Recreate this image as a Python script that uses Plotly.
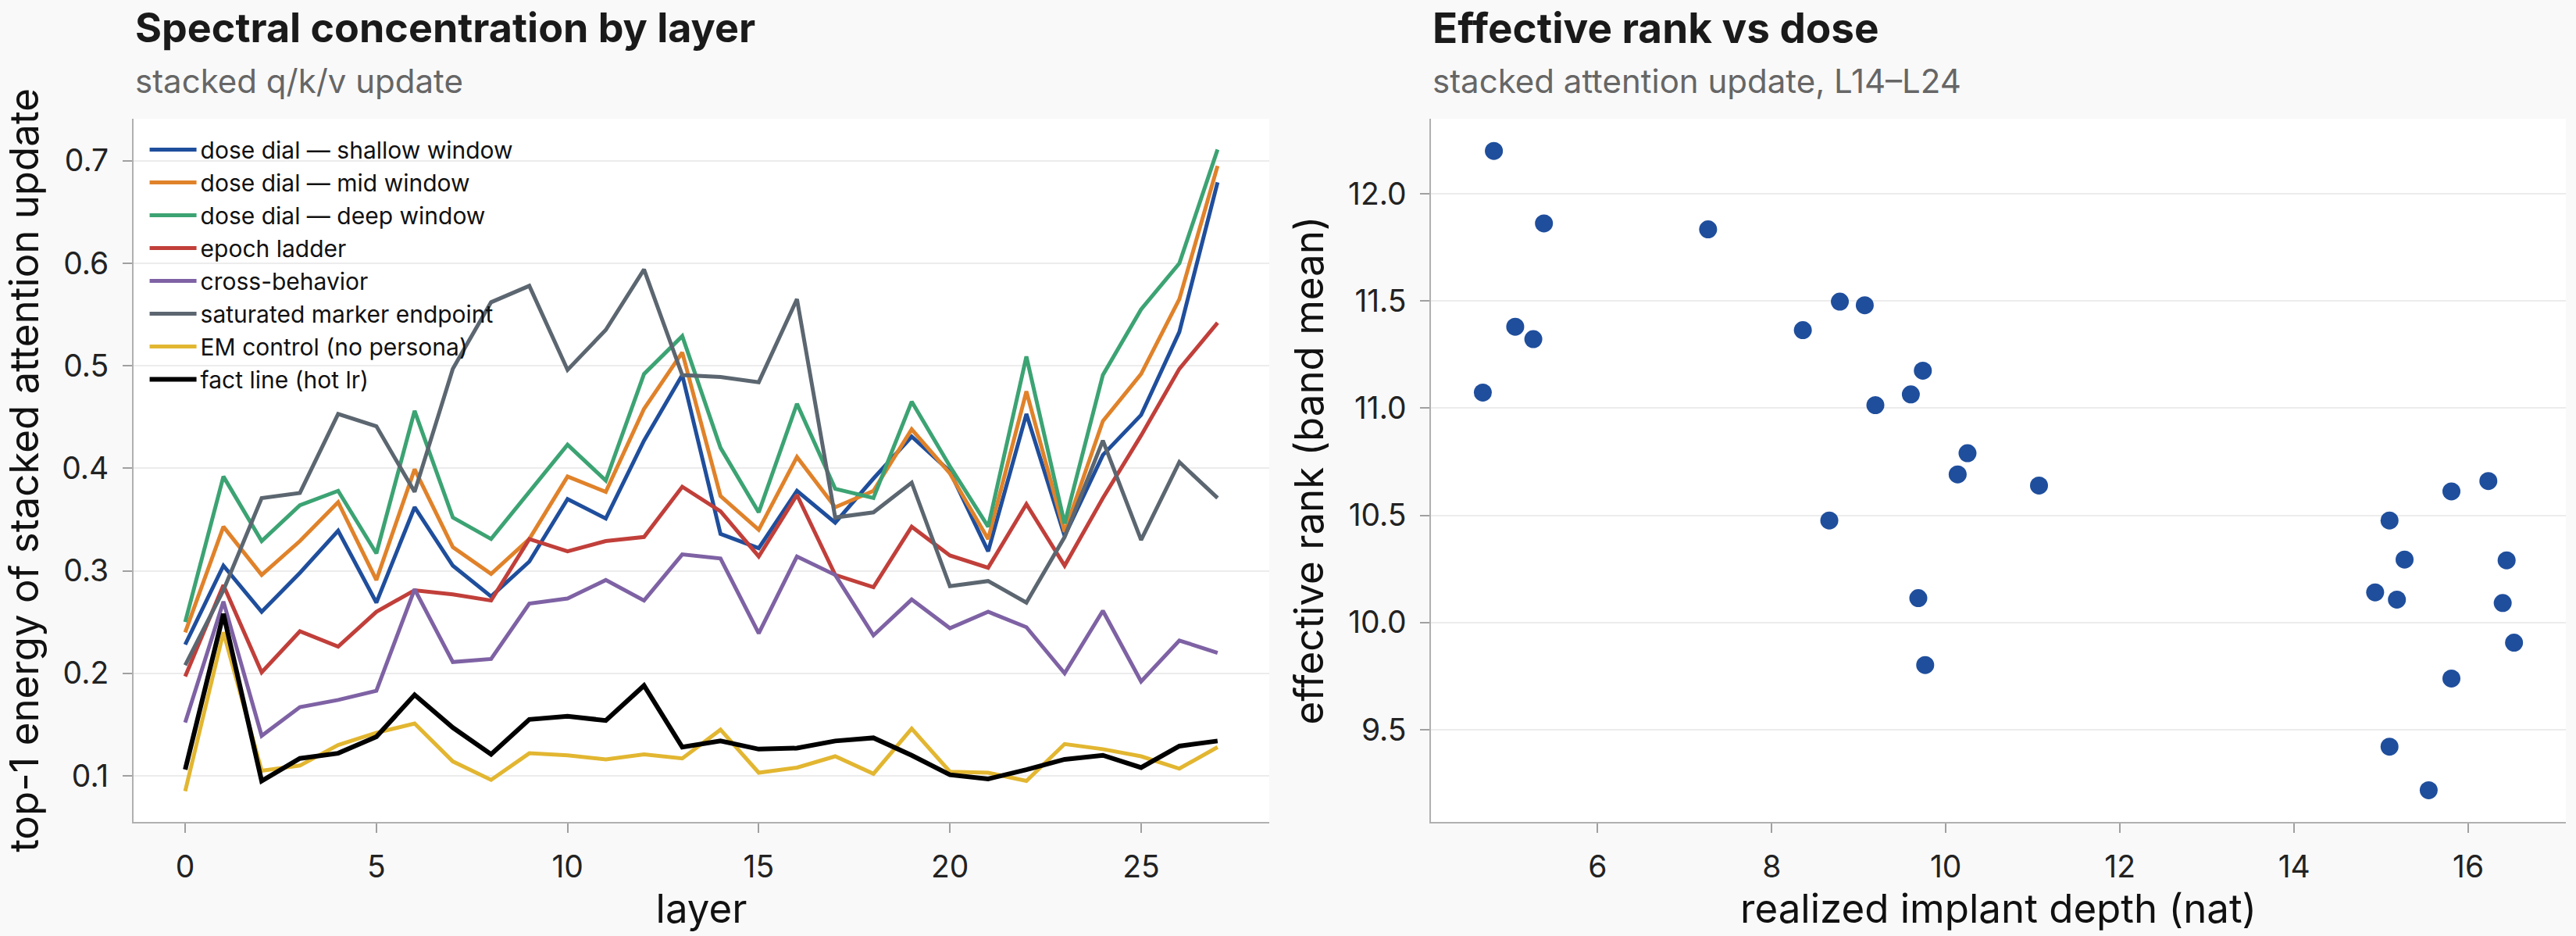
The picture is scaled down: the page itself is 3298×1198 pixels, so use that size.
import plotly.graph_objects as go

layers = list(range(28))

shallow = [0.228, 0.305, 0.260, 0.298, 0.339, 0.269, 0.362, 0.305, 0.275, 0.309, 0.370, 0.351, 0.427, 0.491,
           0.336, 0.322, 0.378, 0.347, 0.390, 0.431, 0.397, 0.319, 0.453, 0.334, 0.413, 0.452, 0.533, 0.679]
mid = [0.240, 0.343, 0.296, 0.329, 0.367, 0.291, 0.399, 0.323, 0.297, 0.331, 0.392, 0.377, 0.458, 0.513,
       0.373, 0.340, 0.411, 0.362, 0.378, 0.438, 0.395, 0.331, 0.475, 0.338, 0.446, 0.492, 0.565, 0.695]
deep = [0.250, 0.392, 0.329, 0.364, 0.378, 0.317, 0.456, 0.352, 0.331, 0.377, 0.423, 0.388, 0.492, 0.529,
        0.420, 0.357, 0.463, 0.380, 0.371, 0.465, 0.402, 0.343, 0.509, 0.346, 0.491, 0.555, 0.600, 0.711]
epoch = [0.197, 0.286, 0.201, 0.241, 0.226, 0.260, 0.281, 0.277, 0.271, 0.331, 0.319, 0.329, 0.333, 0.382,
         0.358, 0.314, 0.374, 0.296, 0.284, 0.343, 0.315, 0.303, 0.365, 0.305, 0.371, 0.432, 0.497, 0.542]
cross = [0.152, 0.270, 0.139, 0.167, 0.174, 0.183, 0.282, 0.211, 0.214, 0.268, 0.273, 0.291, 0.271, 0.316,
         0.312, 0.239, 0.314, 0.296, 0.237, 0.272, 0.244, 0.260, 0.245, 0.200, 0.261, 0.192, 0.232, 0.220]
saturated = [0.208, 0.281, 0.371, 0.376, 0.453, 0.441, 0.377, 0.497, 0.562, 0.578, 0.496, 0.535, 0.594, 0.491,
             0.489, 0.484, 0.565, 0.352, 0.357, 0.386, 0.285, 0.290, 0.269, 0.333, 0.427, 0.330, 0.406, 0.371]
em_control = [0.085, 0.240, 0.105, 0.110, 0.130, 0.142, 0.151, 0.114, 0.096, 0.122, 0.120, 0.116, 0.121, 0.117,
              0.145, 0.103, 0.108, 0.119, 0.102, 0.146, 0.104, 0.103, 0.095, 0.131, 0.126, 0.119, 0.107, 0.128]
fact = [0.106, 0.258, 0.095, 0.117, 0.122, 0.138, 0.179, 0.147, 0.121, 0.155, 0.158, 0.154, 0.188, 0.128,
        0.134, 0.126, 0.127, 0.134, 0.137, 0.120, 0.101, 0.097, 0.106, 0.116, 0.120, 0.108, 0.129, 0.134]

series_names = ["dose dial \u2014 shallow window", "dose dial \u2014 mid window", "dose dial \u2014 deep window",
                "epoch ladder", "cross-behavior", "saturated marker endpoint", "EM control (no persona)",
                "fact line (hot lr)"]
series_values = [shallow, mid, deep, epoch, cross, saturated, em_control, fact]
series_colors = ["#1f4e9c", "#e0822a", "#3ca373", "#c13f3a", "#7e62a4", "#5b6670", "#e2b631", "#000000"]
series_widths = [5, 5, 5, 5, 5, 5, 5, 6]

depth = [4.81, 5.385, 7.27, 5.055, 5.263, 4.683, 8.358, 8.783, 9.069, 9.191, 9.598, 9.736, 10.249, 10.136,
         11.07, 8.662, 9.684, 9.763, 15.095, 15.268, 14.93, 15.18, 15.806, 16.23, 16.44, 16.395, 16.525,
         15.806, 15.095, 15.545]
eff_rank = [12.20, 11.862, 11.834, 11.38, 11.322, 11.073, 11.364, 11.497, 11.48, 11.014, 11.064, 11.175,
            10.79, 10.691, 10.639, 10.476, 10.114, 9.802, 10.476, 10.294, 10.141, 10.107, 10.612, 10.66,
            10.29, 10.091, 9.906, 9.739, 9.421, 9.218]

FONT = "Inter"
fig = go.Figure()

for name, vals, col, w in zip(series_names, series_values, series_colors, series_widths):
    fig.add_trace(go.Scatter(x=layers, y=vals, mode="lines", name=name,
                             line=dict(color=col, width=w), xaxis="x", yaxis="y"))

fig.add_trace(go.Scatter(x=depth, y=eff_rank, mode="markers", showlegend=False,
                         marker=dict(color="#1f4e9c", size=23, line=dict(width=0)),
                         xaxis="x2", yaxis="y2"))

axis_common = dict(showline=True, linecolor="#b0b0b0", linewidth=2, ticks="outside", ticklen=12,
                   tickwidth=2, tickcolor="#a0a0a0", tickfont=dict(family=FONT, size=39, color="#222"),
                   zeroline=False, mirror=False, ticklabelstandoff=10)
title_font = dict(family=FONT, size=51, color="#111")

fig.update_layout(
    width=3298, height=1198,
    paper_bgcolor="#f9f9f9", plot_bgcolor="#ffffff",
    margin=dict(l=171, r=13, t=152, b=146, autoexpand=False),
    font=dict(family=FONT, color="#222"),
    showlegend=True,
    legend=dict(x=0.005, y=0.985, xanchor="left", yanchor="top", bgcolor="rgba(0,0,0,0)",
                font=dict(family=FONT, size=30, color="#111"), itemwidth=60, tracegroupgap=0),
    xaxis=dict(domain=[0, 0.4669], range=[-1.35, 28.35], tickvals=[0, 5, 10, 15, 20, 25],
               showgrid=False, title=dict(text="layer", font=title_font, standoff=12),
               anchor="y", **axis_common),
    yaxis=dict(range=[0.055, 0.741], tickvals=[0.1, 0.2, 0.3, 0.4, 0.5, 0.6, 0.7],
               showgrid=True, gridcolor="#ececec", gridwidth=2, anchor="x",
               title=dict(text="top-1 energy of stacked attention update", font=title_font, standoff=15),
               **axis_common),
    xaxis2=dict(domain=[0.5335, 1], range=[4.09, 17.12], tickvals=[6, 8, 10, 12, 14, 16],
                showgrid=False, anchor="y2",
                title=dict(text="realized implant depth (nat)", font=title_font, standoff=12),
                **axis_common),
    yaxis2=dict(range=[9.07, 12.35], tickvals=[9.5, 10.0, 10.5, 11.0, 11.5, 12.0], tickformat=".1f",
                showgrid=True, gridcolor="#ececec", gridwidth=2, anchor="x2",
                title=dict(text="effective rank (band mean)", font=title_font, standoff=15),
                **axis_common),
    annotations=[
        dict(text="<b>Spectral concentration by layer</b>", xref="paper", yref="paper", x=0.0, y=1.129,
             xanchor="left", yanchor="middle", showarrow=False, font=dict(family=FONT, size=52, color="#1a1a1a")),
        dict(text="stacked q/k/v update", xref="paper", yref="paper", x=0.0, y=1.054,
             xanchor="left", yanchor="middle", showarrow=False, font=dict(family=FONT, size=42, color="#666")),
        dict(text="<b>Effective rank vs dose</b>", xref="paper", yref="paper", x=0.5335, y=1.129,
             xanchor="left", yanchor="middle", showarrow=False, font=dict(family=FONT, size=53, color="#1a1a1a")),
        dict(text="stacked attention update, L14\u2013L24", xref="paper", yref="paper", x=0.5335, y=1.054,
             xanchor="left", yanchor="middle", showarrow=False, font=dict(family=FONT, size=42, color="#666")),
    ],
)

fig.write_html("out.html")
